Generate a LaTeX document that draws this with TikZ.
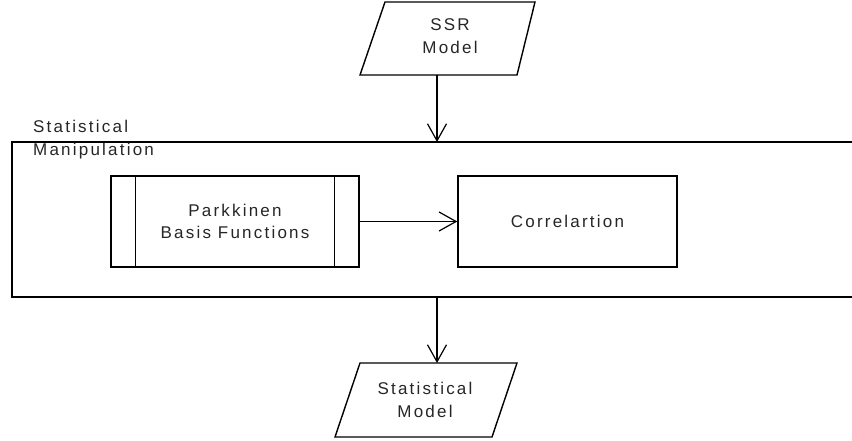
\documentclass[tikz,border=0pt]{standalone}
\usepackage{fontspec}
\setmainfont{Liberation Sans}[LetterSpace=13]
\usetikzlibrary{arrows.meta}
\tikzset{
  shapeline/.style={draw=black, line width=1.4pt},
  frameline/.style={draw=black, line width=2pt},
  flowarrow/.style={draw=black, line width=1.2pt, -{Straight Barb[length=17pt,width=19pt,line width=1.2pt]}},
  label/.style={align=center, font=\fontsize{17pt}{22.5pt}\selectfont, text=black!85, inner sep=0pt},
}
\begin{document}
\begin{tikzpicture}[x=1pt,y=-1pt]
\useasboundingbox (0,0) rectangle (852,441);

% input data (parallelogram)
\draw[shapeline] (385,2) -- (535,2) -- (517,75) -- (360,75) -- cycle;
\node[label] (ssr) at (450,36) {SSR\\Model};
\coordinate (ssrout) at (437,75);

% enclosing process frame, open on the right
\coordinate (frameTL) at (12,142);
\coordinate (frameBL) at (12,297);
\coordinate (frameTR) at (852,142);
\coordinate (frameBR) at (852,297);
\draw[frameline] (frameTR) -- (frameTL) -- (frameBL) -- (frameBR);
\node[label, align=left, anchor=north west] (framelbl) at (33,120) {Statistical\\Manipulation};
\coordinate (framein) at (437,142);
\coordinate (frameout) at (437,297);

% predefined process
\node[shapeline, minimum width=248pt, minimum height=91pt, label] (park) at (235,221.5) {Parkkinen\\Basis Functions};
\draw[shapeline] ([xshift=25pt]park.north west) -- ([xshift=25pt]park.south west);
\draw[shapeline] ([xshift=-25pt]park.north east) -- ([xshift=-25pt]park.south east);

% process
\node[shapeline, minimum width=219pt, minimum height=91pt, label] (corr) at (567.5,221.5) {Correlartion};

% output data (parallelogram)
\draw[shapeline] (360,363) -- (517,363) -- (492,437) -- (335,437) -- cycle;
\node[label] (stat) at (425,400) {Statistical\\Model};
\coordinate (statin) at (437,363);

% connectors
\draw[flowarrow] (ssrout) -- (framein);
\draw[flowarrow] (park) -- (corr);
\draw[flowarrow] (frameout) -- (statin);
\end{tikzpicture}
\end{document}
